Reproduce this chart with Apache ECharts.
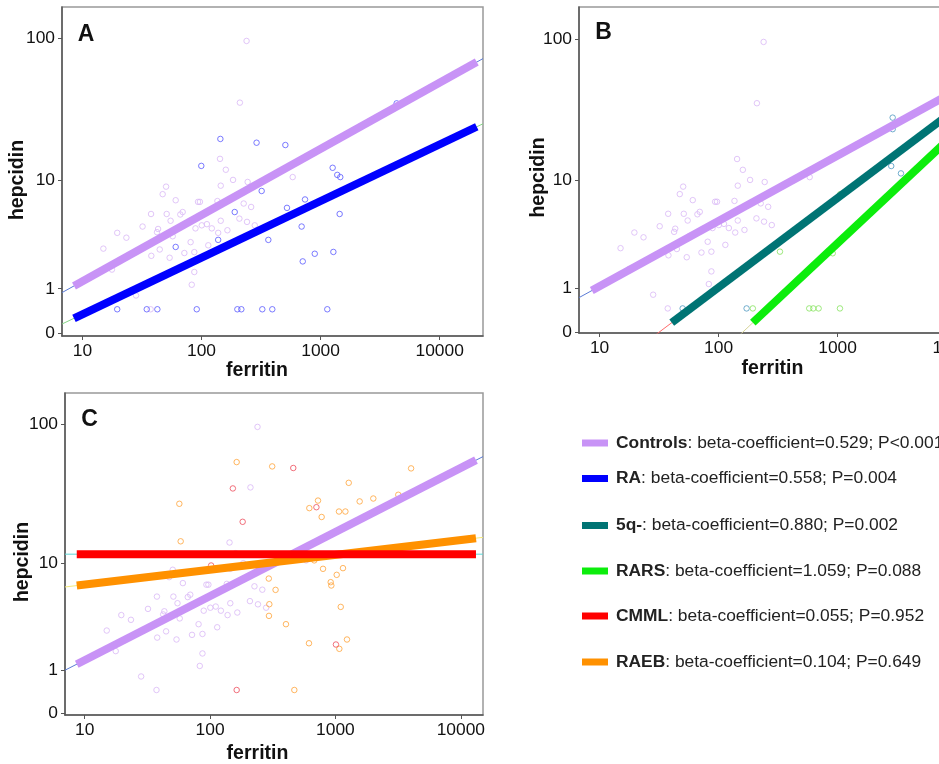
<!DOCTYPE html>
<html><head><meta charset="utf-8">
<script src="https://cdn.jsdelivr.net/npm/echarts@6/dist/echarts.min.js"></script>
<style>html,body{margin:0;padding:0;background:#fff;overflow:hidden}#c{width:1000px;height:764px}</style>
</head><body><div id="c"></div>
<script>
// ---- tick labels ----
const xTickLabels = [10, 100, 1000, 10000];
const yTickLabels = [0, 1, 10, 100];

// ---- scatter data (ferritin, hepcidin) ----
const controlsFerritin = [239,210,143,160,583,184,244,145,50.4,47.2,60.7,93.5,97,136,226,261,69.5,66.4,37.7,51,55,145,208,241,111,100.5,122,89,32,43.2,42.3,165,138,280,57.3,19.6,23.4,81,114,15,44.6,71.8,87,37.9,54,17.7,87,82.8,28.2,37.4];
const controlsHepcidin = [96,35.9,14.3,11.9,10.5,10.0,9.65,9.05,8.9,7.8,7.0,6.8,6.8,6.9,6.6,6.2,5.65,5.4,5.45,5.45,4.8,4.8,5.0,4.7,4.5,4.4,4.15,4.15,4.3,4.1,3.85,4.0,3.8,4.4,3.55,3.8,3.45,3.15,2.95,2.75,2.7,2.5,2.55,2.35,2.25,1.7,1.6,1.13,0.8,0.45];

const raFerritin = [144,290,506,99.6,1262,1380,1463,320,740,522,190,1445,693,138,364,60.7,893,1280,708,4350,19.6,34.7,42.6,91.2,200,216,324,393,1138];
const raHepcidin = [19.9,18.7,18.0,12.7,12.3,10.9,10.5,8.25,7.1,6.1,5.65,5.45,4.3,3.3,3.3,2.85,2.46,2.56,2.07,35.5,0.45,0.45,0.45,0.45,0.45,0.45,0.45,0.45,0.45];

const q5Ferritin = [49.9,172,2904,2904,2825,3410];
const q5Hepcidin = [0.45,0.45,28.4,23.5,12.7,11.2];

const rarsFerritin = [194,578,625,693,1047,328,910,1054];
const rarsHepcidin = [0.45,0.45,0.45,0.45,0.45,2.55,2.46,7.8];

const cmmlFerritin = [461,152,705,182,102,1009,163];
const cmmlHepcidin = [49.3,35.3,25.9,20.3,9.6,2.0,0.45];

const raebFerritin = [163,313,4010,1276,3170,56.9,1560,2004,726,619,1067,1200,776,58.3,678,796,1148,1023,294,916,927,333,297,295,1102,403,615,1236,1074,470];
const raebHepcidin = [54.3,50.6,49,38.7,31.8,27.4,28.5,29.9,28.9,25.5,24.1,24.1,22,14.6,10.5,9.05,9.16,8.13,7.6,7.12,6.7,6.18,4.71,3.74,4.47,3.15,2.06,2.25,1.8,0.45];

// ---- fitted lines: [start, end] ----
const controlsFitFerritinA = [8.5, 20470];
const controlsFitHepcidinA = [1.09, 68.7];
const controlsFitFerritinB = [8.6, 20470];
const controlsFitHepcidinB = [0.92, 61.2];
const controlsFitFerritinC = [8.65, 13200];
const controlsFitHepcidinC = [1.19, 56.0];
const raFitFerritin = [8.5, 20470];
const raFitHepcidin = [0.259, 24.3];
const q5FitFerritin = [40.4, 20000];
const q5FitHepcidin = [0.158, 50.9];
const rarsFitFerritin = [194, 20000];
const rarsFitHepcidin = [0.158, 38.9];
const cmmlFitFerritin = [8.65, 13200];
const cmmlFitHepcidin = [11.7, 11.7];
const raebFitFerritin = [8.65, 13200];
const raebFitHepcidin = [6.69, 15.4];

// ---- legend text ----
const legendNames = ['Controls','RA','5q-','RARS','CMML','RAEB'];
const legendStats = [': beta-coefficient=0.529; P<0.001', ': beta-coefficient=0.558; P=0.004', ': beta-coefficient=0.880; P=0.002', ': beta-coefficient=1.059; P=0.088', ': beta-coefficient=0.055; P=0.952', ': beta-coefficient=0.104; P=0.649'];

// ---- transforms (log ferritin, log(hepcidin+1)) ----
const LX = f => Math.log10(f);
const TY = h => Math.log10(h + 1);
const pts = (F, H) => F.map((f, i) => [LX(f), TY(H[i])]);

const FONT = '"Liberation Sans", Arial, sans-serif';
const C = {
  controls: '#c893f6', controlsPt: '#d9b8f6', controlsThin: '#5b7bd6',
  ra: '#0000ff', raPt: '#5a5aff', raThin: '#86d486',
  q5: '#007474', q5Pt: '#4d98c0', q5Thin: '#ff6a6a',
  rars: '#0ced0c', rarsPt: '#86e45e', rarsThin: '#d6d49a',
  cmml: '#ff0000', cmmlPt: '#ee4d5c', cmmlThin: '#5ed6d6',
  raeb: '#ff9100', raebPt: '#ffa43a', raebThin: '#f3ea7c'
};
const legendColors = [C.controls, C.ra, C.q5, C.rars, C.cmml, C.raeb];

const grids = [
  {left: 62, top: 7, width: 421, height: 329},
  {left: 579, top: 7, width: 421, height: 326},
  {left: 65, top: 393, width: 418, height: 322}
];
const xExt = [[0.8287, 4.3635], [0.827, 4.365], [0.8433, 4.1766]];
const yExt = [[-0.0204, 2.2177], [-0.007, 2.226], [-0.012, 2.222]];

function xAxisCfg(i) {
  return {
    type: 'value', gridIndex: i, min: xExt[i][0], max: xExt[i][1],
    axisLine: {show: true, onZero: false, lineStyle: {color: '#555', width: 1.5}},
    axisTick: {show: true, customValues: xTickLabels.map(LX), length: 4, lineStyle: {color: '#555'}},
    axisLabel: {customValues: xTickLabels.map(LX), formatter: v => String(Math.round(Math.pow(10, v))),
      fontSize: 17.4, color: '#111', margin: 7, fontFamily: FONT},
    splitLine: {show: false}
  };
}
function yAxisCfg(i) {
  return {
    type: 'value', gridIndex: i, min: yExt[i][0], max: yExt[i][1],
    axisLine: {show: true, onZero: false, lineStyle: {color: '#555', width: 1.5}},
    axisTick: {show: true, customValues: yTickLabels.map(TY), length: 4, lineStyle: {color: '#555'}},
    axisLabel: {customValues: yTickLabels.map(TY), formatter: v => String(Math.round(Math.pow(10, v) - 1)),
      fontSize: 17.4, color: '#111', margin: 7, fontFamily: FONT},
    splitLine: {show: false}
  };
}

function scatter(i, F, H, color) {
  return {type: 'scatter', xAxisIndex: i, yAxisIndex: i, data: pts(F, H), symbol: 'circle', symbolSize: 5.5,
    itemStyle: {color: 'rgba(255,255,255,0)', borderColor: color, borderWidth: 1}, z: 2, silent: true};
}
function thick(i, F, H, color) {
  return {type: 'line', xAxisIndex: i, yAxisIndex: i, data: pts(F, H), showSymbol: false, symbol: 'none',
    lineStyle: {color: color, width: 8, cap: 'butt'}, z: 5, silent: true, clip: true};
}
function thin(i, F, H, color) {
  const p = pts(F, H);
  const s = (p[1][1] - p[0][1]) / (p[1][0] - p[0][0]);
  const x0 = xExt[i][0], x1 = xExt[i][1];
  const d = [[x0, p[0][1] + s * (x0 - p[0][0])], [x1, p[0][1] + s * (x1 - p[0][0])]];
  return {type: 'line', xAxisIndex: i, yAxisIndex: i, data: d, showSymbol: false, symbol: 'none',
    lineStyle: {color: color, width: 1}, z: 4, silent: true, clip: true};
}

const series = [
  // A
  scatter(0, controlsFerritin, controlsHepcidin, C.controlsPt),
  scatter(0, raFerritin, raHepcidin, C.raPt),
  thin(0, controlsFitFerritinA, controlsFitHepcidinA, C.controlsThin),
  thin(0, raFitFerritin, raFitHepcidin, C.raThin),
  thick(0, controlsFitFerritinA, controlsFitHepcidinA, C.controls),
  thick(0, raFitFerritin, raFitHepcidin, C.ra),
  // B
  scatter(1, controlsFerritin, controlsHepcidin, C.controlsPt),
  scatter(1, q5Ferritin, q5Hepcidin, C.q5Pt),
  scatter(1, rarsFerritin, rarsHepcidin, C.rarsPt),
  thin(1, controlsFitFerritinB, controlsFitHepcidinB, C.controlsThin),
  thin(1, q5FitFerritin, q5FitHepcidin, C.q5Thin),
  thin(1, rarsFitFerritin, rarsFitHepcidin, C.rarsThin),
  thick(1, controlsFitFerritinB, controlsFitHepcidinB, C.controls),
  thick(1, q5FitFerritin, q5FitHepcidin, C.q5),
  thick(1, rarsFitFerritin, rarsFitHepcidin, C.rars),
  // C
  scatter(2, controlsFerritin, controlsHepcidin, C.controlsPt),
  scatter(2, raebFerritin, raebHepcidin, C.raebPt),
  scatter(2, cmmlFerritin, cmmlHepcidin, C.cmmlPt),
  thin(2, controlsFitFerritinC, controlsFitHepcidinC, C.controlsThin),
  thin(2, raebFitFerritin, raebFitHepcidin, C.raebThin),
  thin(2, cmmlFitFerritin, cmmlFitHepcidin, C.cmmlThin),
  thick(2, controlsFitFerritinC, controlsFitHepcidinC, C.controls),
  thick(2, raebFitFerritin, raebFitHepcidin, C.raeb),
  thick(2, cmmlFitFerritin, cmmlFitHepcidin, C.cmml)
];

const graphics = [];
function txt(x, y, s, size, rot) {
  graphics.push({type: 'text', x: x, y: y, rotation: rot || 0, silent: true, z: 10,
    style: {text: s, font: 'bold ' + size + 'px ' + FONT, fill: '#111', align: 'center', verticalAlign: 'middle'}});
}
txt(86, 35, 'A', 23); txt(603.5, 33, 'B', 23); txt(89.5, 420, 'C', 23);
txt(17.5, 180, 'hepcidin', 19.5, Math.PI / 2);
txt(539, 177.5, 'hepcidin', 19.5, Math.PI / 2);
txt(22.5, 562, 'hepcidin', 19.5, Math.PI / 2);
txt(257, 371, 'ferritin', 19.5); txt(772.5, 368.5, 'ferritin', 19.5); txt(257.5, 754, 'ferritin', 19.5);

const legendY = [443, 478.5, 525.5, 571, 616, 662];
legendNames.forEach((n, i) => {
  graphics.push({type: 'rect', shape: {x: 582, y: legendY[i] - 3.5, width: 26, height: 7}, style: {fill: legendColors[i]}, silent: true});
  graphics.push({type: 'text', x: 616, y: legendY[i], silent: true,
    style: {text: '{b|' + n + '}{n|' + legendStats[i] + '}', verticalAlign: 'middle', align: 'left',
      rich: {b: {font: 'bold 17.4px ' + FONT, fill: '#222'}, n: {font: '17.4px ' + FONT, fill: '#222'}}}});
});

const chart = echarts.init(document.getElementById('c'), null, {renderer: 'canvas'});
chart.setOption({
  animation: false,
  backgroundColor: '#fff',
  grid: grids.map(g => Object.assign({show: true, borderColor: '#999', borderWidth: 1.5, backgroundColor: 'transparent'}, g)),
  xAxis: [0, 1, 2].map(xAxisCfg),
  yAxis: [0, 1, 2].map(yAxisCfg),
  series: series,
  graphic: graphics
});
</script></body></html>
